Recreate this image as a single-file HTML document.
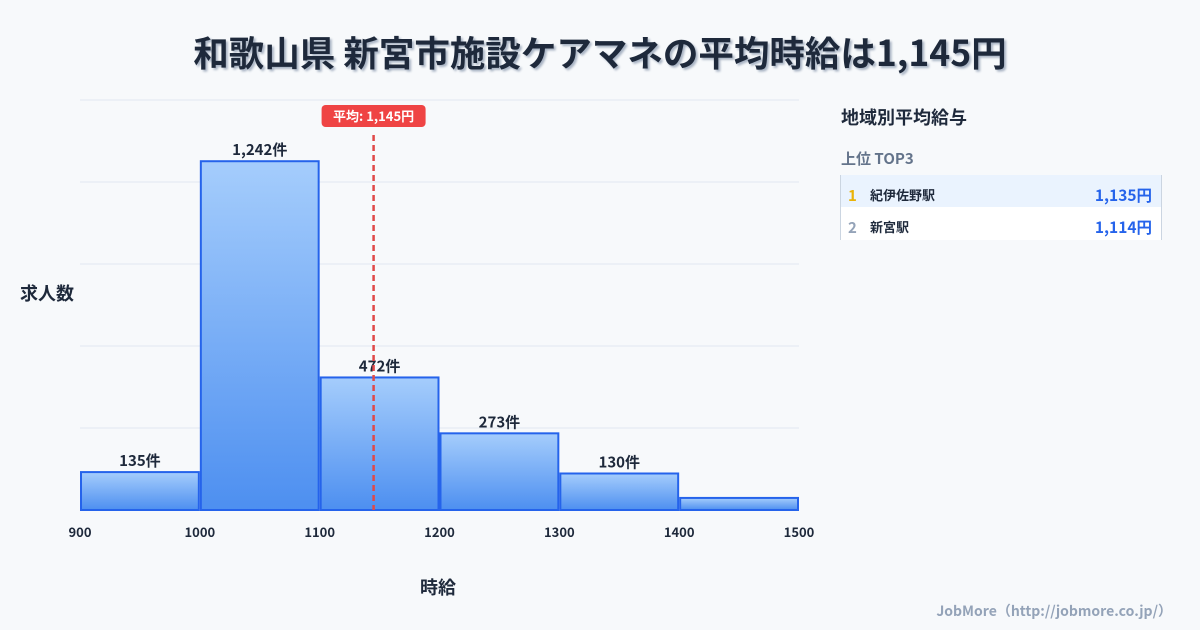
<!DOCTYPE html>
<html><head><meta charset="utf-8">
<style>
body{margin:0;width:1200px;height:630px;background:#f7f9fb;font-family:"Liberation Sans","Noto Sans CJK JP",sans-serif;overflow:hidden;position:relative}
.t{position:absolute;font-family:"Noto Sans CJK JP","Liberation Sans",sans-serif;font-weight:700}
</style></head><body>
<div class="t" style="left:0;width:1200px;top:26px;text-align:center;font-size:35.5px;color:#1e293b;text-shadow:2px 2px 2px #a9b4c4">和歌山県 新宮市施設ケアマネの平均時給は1,145円</div>
<div class="t" style="left:20px;top:280px;font-size:18px;color:#1e293b">求人数</div>
<div class="t" style="left:420px;top:574px;font-size:18px;color:#1e293b">時給</div>
<svg id="chart" width="1200" height="630" style="position:absolute;left:0;top:0">
<defs><linearGradient id="g" x1="0" y1="0" x2="0" y2="1"><stop offset="0" stop-color="#a5cdfc"/><stop offset="1" stop-color="#4d8ff0"/></linearGradient></defs>
</svg>
<div>
<div class="t" style="left:841px;top:104px;font-size:18px;color:#1e293b">地域別平均給与</div>
<div class="t" style="left:841px;top:148px;font-size:15px;color:#64748b">上位 TOP3</div>
<div style="position:absolute;left:840px;top:175px;width:320px;height:32px;background:#eaf3fe;border-left:1px solid #cbd5e1;border-right:1px solid #cbd5e1"></div>
<div style="position:absolute;left:840px;top:207px;width:320px;height:33px;background:#fff;border-left:1px solid #cbd5e1;border-right:1px solid #cbd5e1"></div>
<div class="t" style="left:848px;top:185px;font-size:15px;color:#eab308">1</div>
<div class="t" style="left:870px;top:185px;font-size:13px;color:#1e293b">紀伊佐野駅</div>
<div class="t" style="right:48px;top:184px;font-size:15.5px;color:#2563eb">1,135円</div>
<div class="t" style="left:848px;top:217px;font-size:15px;color:#94a3b8">2</div>
<div class="t" style="left:870px;top:217px;font-size:13px;color:#1e293b">新宮駅</div>
<div class="t" style="right:48px;top:216px;font-size:15.5px;color:#2563eb">1,114円</div>
</div>
<div class="t" style="right:28px;top:601px;font-size:14px;color:#94a3b8">JobMore（http://jobmore.co.jp/）</div>
<script>
const binStarts=[900,1000,1100,1200,1300,1400];
const counts=[135,1242,472,273,130,43];
const showLabel=[true,true,true,true,true,false];
const xTicks=[900,1000,1100,1200,1300,1400,1500];
const meanValue=1145;
const meanLabel="平均: 1,145円";
const NS="http://www.w3.org/2000/svg";
const svg=document.getElementById('chart');
const X0=80,X1=799,XMIN=900,XMAX=1500,YB=510,YT=100,YMAX=1460;
const x=v=>X0+(v-XMIN)/(XMAX-XMIN)*(X1-X0);
const y=v=>YB-v/YMAX*(YB-YT);
function mk(tag,attrs){const e=document.createElementNS(NS,tag);for(const k in attrs)e.setAttribute(k,attrs[k]);svg.appendChild(e);return e;}
for(let i=0;i<=5;i++){const gy=YB-i*(YB-YT)/5;
const l=mk('line',{x1:X0,x2:X1,y1:gy,y2:gy,stroke:'#e2e8f0','stroke-width':1});

}
binStarts.forEach((b,i)=>{
const xa=x(b)+1,xb=x(b+100)-1,yt=y(counts[i]);
const r=mk('rect',{x:xa,y:yt,width:xb-xa,height:YB-yt,fill:'url(#g)',stroke:'#2563eb','stroke-width':2});


if(showLabel[i]){const t=mk('text',{x:(xa+xb)/2,y:yt-6,'text-anchor':'middle','font-size':15,'font-weight':700,fill:'#1e293b','font-family':'"Noto Sans CJK JP",sans-serif'});
t.textContent=counts[i].toLocaleString('en-US')+'件';

}
});
xTicks.forEach(v=>{const t=mk('text',{x:x(v),y:537,'text-anchor':'middle','font-size':13,'font-weight':700,fill:'#1e293b','font-family':'"Noto Sans CJK JP",sans-serif'});
t.textContent=v;

});
const mx=x(meanValue);
const ml=mk('line',{x1:mx,x2:mx,y1:135,y2:YB,stroke:'#e04848','stroke-width':2.5,'stroke-dasharray':'6,4'});


const mb=mk('rect',{x:mx-52,y:105,width:104,height:22,rx:4,fill:'#ef4444'});


const mt=mk('text',{x:mx,y:121,'text-anchor':'middle','font-size':13,'font-weight':700,fill:'#fff','font-family':'"Noto Sans CJK JP",sans-serif'});
mt.textContent=meanLabel;


</script>
</body></html>
